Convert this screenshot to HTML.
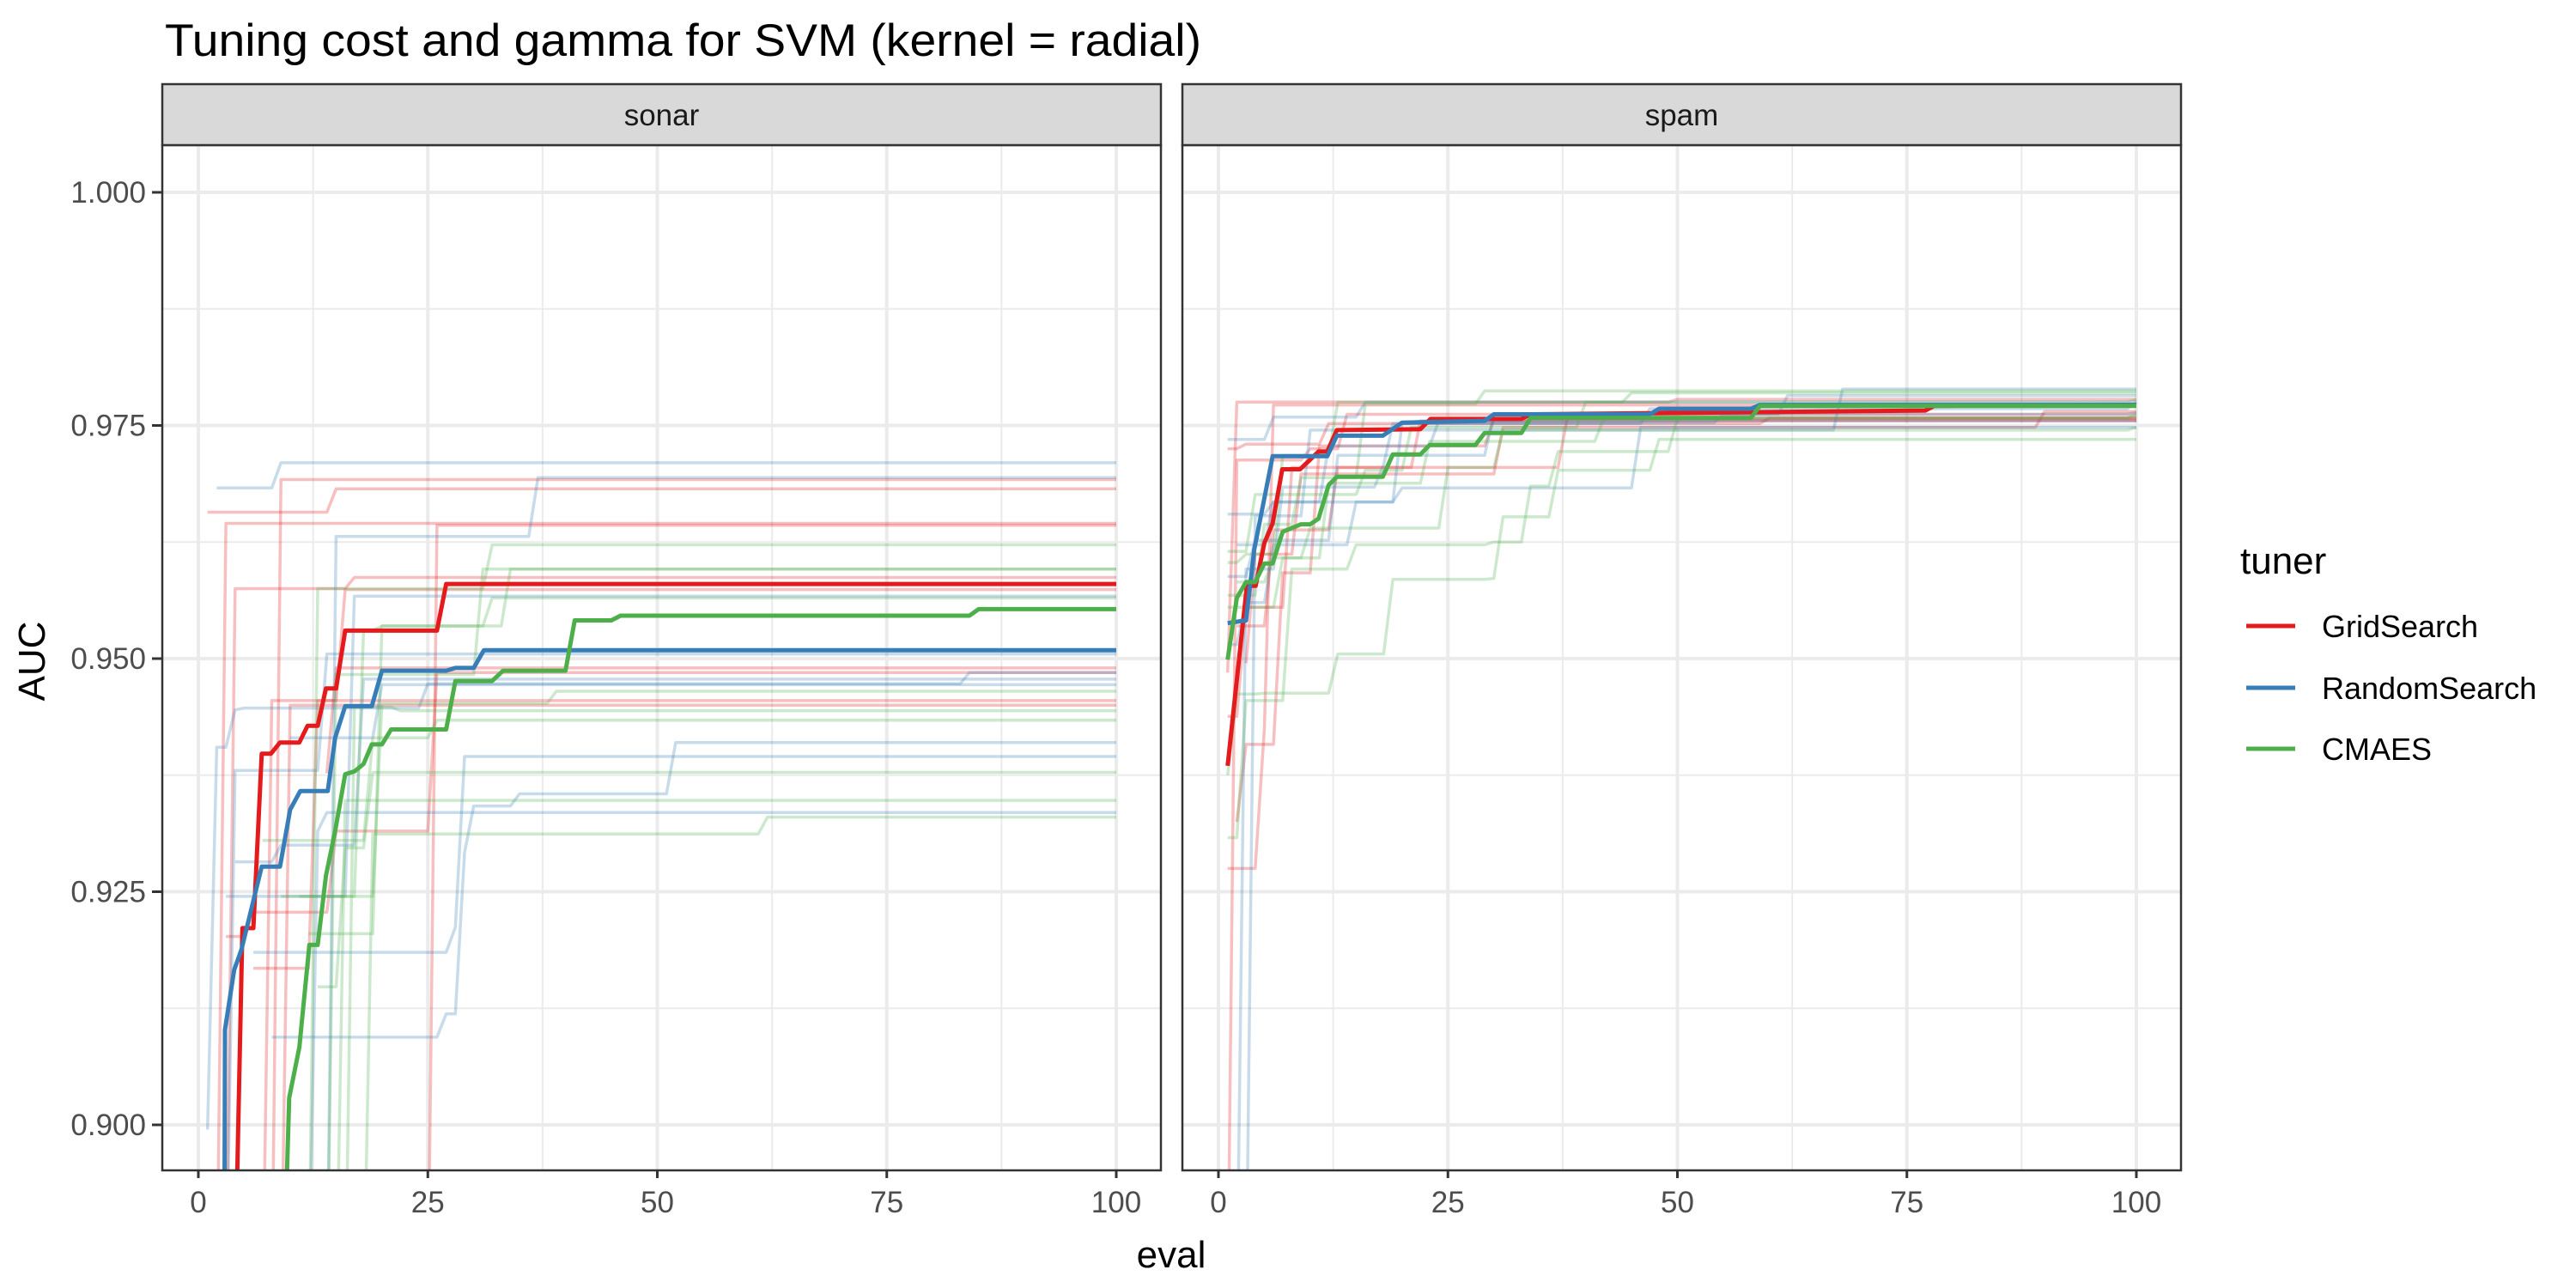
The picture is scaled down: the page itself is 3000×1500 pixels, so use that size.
<!DOCTYPE html>
<html><head><meta charset="utf-8"><style>
html,body{margin:0;padding:0;background:#fff}
svg{display:block;font-family:"Liberation Sans",Arial,sans-serif}
</style></head><body>
<svg id="chart" xmlns="http://www.w3.org/2000/svg" width="3000" height="1500" viewBox="0 0 3000 1500">
<rect width="3000" height="1500" fill="#fff"/>
<text x="192" y="65" font-size="53" fill="#000" textLength="1207" lengthAdjust="spacingAndGlyphs">Tuning cost and gamma for SVM (kernel = radial)</text>
<text transform="translate(52,770) rotate(-90)" text-anchor="middle" font-size="44" fill="#000">AUC</text>
<text x="1364" y="1476" text-anchor="middle" font-size="44" fill="#000">eval</text>
<g id="panels"></g>
<g id="legend">
<text x="2609" y="668" font-size="44" fill="#000">tuner</text>
<g><line x1="2616" x2="2673" y1="729" y2="729" stroke="#E41A1C" stroke-width="5"/><text x="2704" y="742" font-size="36" fill="#000">GridSearch</text></g>
<g><line x1="2616" x2="2673" y1="801" y2="801" stroke="#377EB8" stroke-width="5"/><text x="2704" y="814" font-size="36" fill="#000">RandomSearch</text></g>
<g><line x1="2616" x2="2673" y1="872" y2="872" stroke="#4DAF4A" stroke-width="5"/><text x="2704" y="885" font-size="36" fill="#000">CMAES</text></g>
</g>
</svg>
<script>
const tuners = ["GridSearch","RandomSearch","CMAES"];
const xTicks = [0,25,50,75,100];
const yTicks = [0.900,0.925,0.950,0.975,1.000];
const yTickLabels = ["0.900","0.925","0.950","0.975","1.000"];
const panelNames = ["sonar","spam"];

// Mean curves (eval, AUC)
const sonarGrid = [[4.2,0.893],[4.8,0.9211],[6,0.9211],[6.9,0.9398],[7.9,0.9398],[8.9,0.941],[11,0.941],[11.9,0.9428],[13,0.9428],[13.9,0.9468],[15,0.9468],[16,0.953],[26,0.953],[27,0.958],[50,0.958],[100,0.958]];
const sonarRandom = [[2.85,0.893],[2.9,0.9102],[3.9,0.9166],[4.7,0.9188],[6.9,0.9277],[8.9,0.9277],[10,0.9338],[11.1,0.9358],[14.1,0.9358],[14.9,0.9415],[16,0.9449],[18.9,0.9449],[20,0.9487],[27,0.9487],[28,0.949],[30,0.949],[31.1,0.9509],[100,0.9509]];
const sonarCmaes = [[9.6,0.893],[9.9,0.9029],[11,0.9083],[12.1,0.9193],[13,0.9193],[13.9,0.9267],[14.9,0.9315],[16,0.9376],[17,0.9379],[18,0.9387],[18.9,0.9408],[20,0.9408],[21,0.9424],[27,0.9424],[28,0.9476],[32,0.9476],[33.2,0.9487],[40,0.9487],[41,0.9541],[45,0.9541],[46,0.9546],[84,0.9546],[85,0.9553],[100,0.9553]];
const spamGrid = [[1,0.9385],[3.1,0.9578],[4.05,0.9578],[5,0.9624],[5.9,0.9645],[6.95,0.9703],[8.9,0.9703],[10.9,0.9722],[11.85,0.9722],[12.9,0.9745],[22,0.9746],[23.1,0.9757],[33,0.9757],[34,0.9762],[77,0.9766],[78,0.9771],[100,0.9772]];
const spamRandom = [[1,0.9538],[3,0.9541],[3.9,0.9617],[5.9,0.9717],[11.85,0.9717],[12.9,0.9739],[17.9,0.9739],[20,0.9753],[29,0.9755],[30,0.9762],[47,0.9762],[48,0.9768],[58,0.9768],[59,0.9772],[100,0.9772]];
const spamCmaes = [[1,0.9499],[2,0.9565],[3,0.9582],[4,0.9582],[5,0.9602],[5.9,0.9602],[7,0.9636],[9,0.9644],[10,0.9644],[10.9,0.965],[12,0.9686],[12.9,0.9695],[17.9,0.9695],[19,0.9719],[22,0.9719],[23,0.9729],[28,0.9729],[29,0.9742],[33,0.9742],[34,0.9758],[58,0.9758],[59,0.9771],[100,0.9771]];

// Individual runs: [eval at which value becomes AUC, AUC]
const sonarGridRuns = [
 [[1,0.9657],[13,0.9657],[15,0.9682]],
 [[3,0.88],[9,0.9692]],
 [[2,0.88],[3,0.9645]],
 [[5,0.88],[26,0.9643]],
 [[3,0.88],[4,0.9575],[17,0.9587]],
 [[6,0.9168],[13,0.9455],[16,0.9574]],
 [[14,0.9377],[15,0.949]],
 [[3,0.9202],[6,0.9228],[15,0.9315],[26,0.9485]],
 [[2,0.88],[8,0.9455],[20,0.9455]],
 [[6,0.88],[10,0.945],[11,0.945]]
];
const sonarRandomRuns = [
 [[2,0.9683],[9,0.971]],
 [[3,0.88],[15,0.9631],[37,0.9694]],
 [[1,0.8995],[2,0.9405],[4,0.9445],[5,0.9447],[25,0.9473],[84,0.9485]],
 [[3,0.9245],[17,0.9567]],
 [[8,0.9094],[27,0.9119],[29,0.9292],[30,0.9342],[35,0.9355],[52,0.941]],
 [[6,0.9185],[28,0.9212],[29,0.9395]],
 [[2,0.88],[4,0.938],[14,0.9505]],
 [[10,0.9415],[20,0.9472]],
 [[4,0.9282],[8,0.9282],[9,0.93],[18,0.9478]],
 [[5,0.88],[13,0.9315],[14,0.9335]]
];
const sonarCmaesRuns = [
 [[11,0.88],[13,0.9575],[32,0.9622]],
 [[14,0.88],[15,0.9483],[31,0.9596]],
 [[12,0.9205],[20,0.9535],[34,0.9596]],
 [[11,0.9245],[18,0.953],[20,0.9535],[32,0.9565]],
 [[16,0.88],[17,0.9448],[22,0.9444]],
 [[13,0.9148],[16,0.9297],[19,0.9378]],
 [[15,0.88],[16,0.9348],[19,0.9348]],
 [[18,0.88],[19,0.9312],[46,0.9312],[62,0.933]],
 [[7,0.9305],[12,0.9305],[19,0.9415],[25,0.9415],[26,0.9434]],
 [[9,0.9245],[20,0.9452],[39,0.9465]]
];
const spamGridRuns = [
 [[1,0.9485],[2,0.9775],[50,0.9778]],
 [[1,0.9275],[5,0.9425],[6,0.9772],[100,0.9773]],
 [[1,0.88],[2,0.9713],[10,0.9725],[14,0.9762]],
 [[1,0.9438],[3,0.9555],[8,0.9705],[22,0.9755]],
 [[2,0.9325],[3,0.9408],[7,0.9592],[11,0.9728],[30,0.9756]],
 [[1,0.9725],[3,0.973],[12,0.9752],[60,0.9758]],
 [[2,0.9535],[6,0.9638],[13,0.9705],[38,0.9758]],
 [[3,0.9495],[4,0.9612],[9,0.9698],[31,0.9748],[90,0.9765]]
];
const spamRandomRuns = [
 [[3,0.88],[4,0.9653],[10,0.9745],[68,0.9789]],
 [[2,0.88],[3,0.9596],[7,0.9684],[18,0.9708],[19,0.9752],[47,0.9768],[100,0.9775]],
 [[1,0.9735],[6,0.9759],[16,0.9775]],
 [[1,0.9655],[6,0.9668],[20,0.9753],[55,0.9762],[100,0.9764]],
 [[1,0.9515],[3,0.956],[6,0.9622],[15,0.9668],[20,0.9683],[46,0.9748]],
 [[2,0.9622],[6,0.9668],[12,0.9728],[24,0.9755]],
 [[1,0.9588],[4,0.9627],[13,0.9718],[30,0.9762],[62,0.9782]]
];
const spamCmaesRuns = [
 [[1,0.9375],[2,0.9462],[5,0.9463],[13,0.9505],[18,0.9505],[19,0.9585],[30,0.9586],[31,0.9652],[36,0.9652],[37,0.9702],[47,0.9702],[48,0.9735]],
 [[1,0.9308],[3,0.9455],[8,0.9596],[15,0.9622],[30,0.9625],[34,0.9685],[37,0.9722],[50,0.9758],[100,0.976]],
 [[1,0.9615],[4,0.9676],[16,0.9702],[21,0.9748],[40,0.9775],[100,0.9778]],
 [[1,0.9568],[5,0.9644],[9,0.9694],[16,0.9773],[29,0.9787]],
 [[1,0.9603],[3,0.9612],[7,0.9718],[13,0.9775],[45,0.9785]],
 [[2,0.9582],[6,0.9608],[12,0.9688],[23,0.9733],[42,0.9758],[100,0.9762]],
 [[1,0.9555],[7,0.9608],[10,0.964],[25,0.9705],[31,0.9745],[100,0.9748]]
];

const NS = "http://www.w3.org/2000/svg";
const colors = {GridSearch:"#E41A1C",RandomSearch:"#377EB8",CMAES:"#4DAF4A"};
const panelsG = document.getElementById("panels");
const PW = 1163, X0OFF = 42, UNIT = 10.69;
const PTOP = 169, PBOT = 1363;
function yScale(v){ return 224 + (1 - v) * 10860; }
function mk(tag, attrs, parent){
  const e = document.createElementNS(NS, tag);
  for (const k in attrs) e.setAttribute(k, attrs[k]);
  parent.appendChild(e);
  return e;
}
function stepPoints(run){
  const pts = [];
  for (let i = 0; i < run.length; i++){
    if (i > 0) pts.push([run[i][0] - 1, run[i-1][1]]);
    pts.push(run[i]);
  }
  pts.push([100, run[run.length-1][1]]);
  return pts;
}
const panelData = [
  {runs:[sonarGridRuns,sonarRandomRuns,sonarCmaesRuns], means:[sonarGrid,sonarRandom,sonarCmaes], left:189},
  {runs:[spamGridRuns,spamRandomRuns,spamCmaesRuns], means:[spamGrid,spamRandom,spamCmaes], left:1377}
];
panelData.forEach((pd, pi) => {
  const L = pd.left, R = L + PW;
  const xScale = e => L + X0OFF + e * UNIT;
  const g = mk("g", {}, panelsG);
  
  
  const cp = mk("clipPath", {id:"clip"+pi}, g);
  mk("rect", {x:L, y:PTOP, width:PW, height:PBOT-PTOP}, cp);
  const grid = mk("g", {}, g);
  
  
  for (let i = 0; i < yTicks.length; i++){
    const mv = yTicks[i] + 0.0125;
    if (yScale(mv) > PTOP) mk("line", {x1:L, x2:R, y1:yScale(mv), y2:yScale(mv), stroke:"#EBEBEB", "stroke-width":2}, grid);
  }
  for (let i = 0; i < xTicks.length - 1; i++){
    const mx = (xTicks[i] + xTicks[i+1]) / 2;
    mk("line", {x1:xScale(mx), x2:xScale(mx), y1:PTOP, y2:PBOT, stroke:"#EBEBEB", "stroke-width":2}, grid);
  }
  yTicks.forEach(v => mk("line", {x1:L, x2:R, y1:yScale(v), y2:yScale(v), stroke:"#EBEBEB", "stroke-width":4}, grid));
  xTicks.forEach(v => mk("line", {x1:xScale(v), x2:xScale(v), y1:PTOP, y2:PBOT, stroke:"#EBEBEB", "stroke-width":4}, grid));
  const data = mk("g", {"clip-path":"url(#clip"+pi+")"}, g);
  pd.runs.forEach((runs, ti) => {
    runs.forEach(run => {
      const pts = stepPoints(run).map(p => xScale(p[0]).toFixed(1) + "," + yScale(p[1]).toFixed(1)).join(" ");
      const pl = mk("polyline", {points:pts, fill:"none", stroke:colors[tuners[ti]], "stroke-width":3.5, "stroke-opacity":0.28, "stroke-linejoin":"round"}, data);
      
      
    });
  });
  pd.means.forEach((mean, ti) => {
    const pts = mean.map(p => xScale(p[0]).toFixed(1) + "," + yScale(p[1]).toFixed(1)).join(" ");
    const pl = mk("polyline", {points:pts, fill:"none", stroke:colors[tuners[ti]], "stroke-width":5, "stroke-linejoin":"round"}, data);
    
    
  });
  mk("rect", {x:L, y:PTOP, width:PW, height:PBOT-PTOP, fill:"none", stroke:"#333333", "stroke-width":2.5}, g);
  const strip = mk("rect", {x:L, y:98, width:PW, height:71, fill:"#D9D9D9", stroke:"#333333", "stroke-width":2.5}, g);
  
  
  const st = mk("text", {x:L + PW/2, y:146, "text-anchor":"middle", "font-size":35, fill:"#1A1A1A"}, g);
  st.textContent = panelNames[pi];
  
  
  xTicks.forEach(v => {
    mk("line", {x1:xScale(v), x2:xScale(v), y1:PBOT, y2:PBOT+9, stroke:"#333333", "stroke-width":3}, g);
    const t = mk("text", {x:xScale(v), y:1412, "text-anchor":"middle", "font-size":35, fill:"#4D4D4D"}, g);
    t.textContent = String(v);
    
    
  });
  if (pi === 0){
    yTicks.forEach((v, i) => {
      mk("line", {x1:L-12, x2:L, y1:yScale(v), y2:yScale(v), stroke:"#333333", "stroke-width":3}, g);
      const t = mk("text", {x:L-19, y:yScale(v)+12, "text-anchor":"end", "font-size":35, fill:"#4D4D4D"}, g);
      t.textContent = yTickLabels[i];
      
      
    });
  }
});
</script>
</body></html>
